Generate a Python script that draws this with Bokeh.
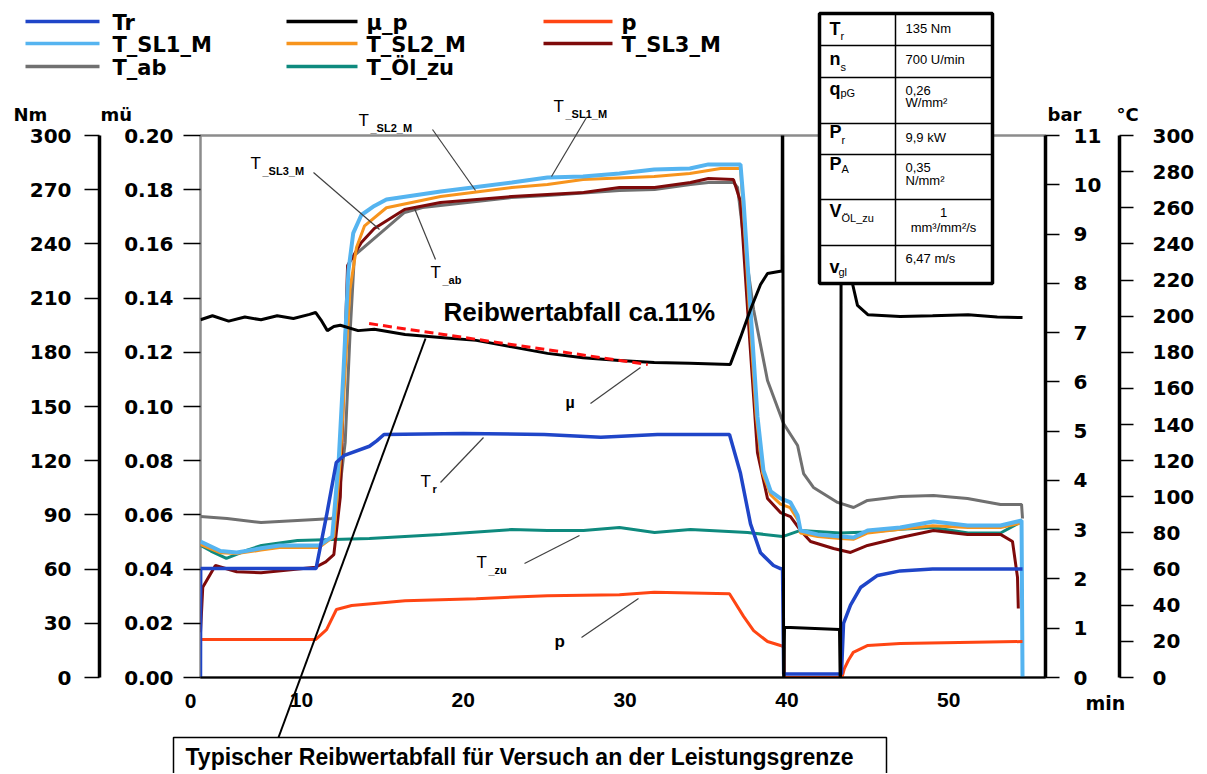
from bokeh.plotting import figure
from bokeh.models import (Range1d, LinearAxis, FixedTicker, Label, NumeralTickFormatter, GridBox, Column)
from bokeh.embed import file_html
from bokeh.resources import INLINE

# ---------------- data (time in min) ----------------
TR_T = [3.76, 3.77, 10.9, 11.55, 12.15, 12.65, 14.2, 14.65, 15.1, 20.0, 25.0, 28.5, 32.0, 36.45,
        37.13, 37.75, 38.37, 39.17, 39.6, 39.73, 39.8, 43.37, 43.5, 43.93, 44.55, 45.6, 47.0, 49.0, 54.56]
TR_V = [0, 60.3, 60.3, 89.7, 119, 123, 128, 131, 134.5, 135, 134.5, 133, 134.5, 134.5,
        113, 85, 69, 62, 60.3, 60, 2, 2, 30, 40, 49.8, 56.5, 59, 60, 60]

MU_T = [3.76, 4.5, 5.5, 6.5, 7.5, 8.5, 9.5, 10.5, 10.87, 11.2, 11.6, 12.0, 12.4, 13.5, 14.5, 16.4,
        18.6, 20.8, 23.0, 25.2, 27.4, 29.65, 31.8, 34.0, 36.5, 37.13, 37.75, 38.37, 38.8, 39.5,
        39.70, 39.73, 39.80, 39.85, 43.25, 43.31, 43.37, 44.05, 44.36, 45.0, 47.0, 49.0, 51.2, 53.0, 54.56]
MU_V = [0.132, 0.1335, 0.1315, 0.133, 0.132, 0.1335, 0.1325, 0.134, 0.1347, 0.132, 0.128, 0.1295,
        0.130, 0.128, 0.1285, 0.1266, 0.1255, 0.1244, 0.122, 0.1196, 0.118, 0.1170, 0.1162, 0.1160,
        0.1155, 0.1255, 0.1358, 0.1450, 0.1491, 0.1498, 0.150, 0.25, -0.01, 0.0185, 0.0177, -0.01,
        0.25, 0.1454, 0.1373, 0.1339, 0.1332, 0.1335, 0.1339, 0.133, 0.1328]

TREND_T = [14.18, 31.4]
TREND_V = [0.1306, 0.1155]

P_T = [3.76, 10.87, 11.55, 12.16, 13.1, 16.4, 20.8, 25.2, 29.65, 31.8, 36.45, 37.32, 37.94, 38.8,
       39.6, 39.8, 39.85, 43.4, 43.55, 43.8, 44.1, 45.0, 47.0, 54.56]
P_V = [0.77, 0.77, 0.97, 1.38, 1.46, 1.56, 1.60, 1.66, 1.68, 1.73, 1.70, 1.24, 0.95, 0.73,
       0.65, 0.62, 0.0, 0.0, 0.18, 0.35, 0.51, 0.65, 0.69, 0.73]

SL1_T = [3.76, 5.0, 6.0, 7.5, 8.64, 11.1, 11.9, 12.3, 12.6, 12.9, 13.2, 13.7, 14.5, 15.25, 18.6, 23.0,
         25.2, 27.4, 29.65, 31.8, 34.0, 35.15, 37.13, 37.32, 37.75, 38.18, 38.55, 39.0, 39.6, 40.22,
         40.66, 40.84, 41.89, 43.31, 44.12, 44.98, 47.0, 49.06, 51.16, 53.2, 54.5, 54.56]
SL1_V = [75.3, 70, 69.2, 71.5, 73.1, 73.1, 78, 120, 170, 225, 246, 256, 261, 264.6, 269.0, 274.0,
         276.8, 277.3, 279.0, 281.2, 281.7, 284.0, 284.0, 263.5, 203.7, 144.5, 114.6, 103.0, 99.1, 96.9,
         89.7, 81.4, 79.2, 78.0, 77.5, 81.4, 83.0, 86.3, 84.1, 84.1, 86.9, 0]

SL2_T = [3.76, 5.0, 6.0, 7.5, 8.64, 11.1, 12.0, 12.4, 12.7, 13.0, 13.4, 13.9, 15.25, 18.6, 23.0, 25.2,
         27.4, 31.8, 34.0, 35.9, 37.13, 37.3, 37.7, 38.1, 38.5, 39.0, 39.6, 40.2, 40.7, 40.84, 41.9,
         43.3, 44.1, 45.0, 47.0, 49.0, 51.2, 53.2, 54.5]
SL2_V = [73.6, 69, 68.6, 70.5, 72, 72, 78, 120, 170, 215, 238, 250, 260, 266.2, 271.2, 272.9,
         275.6, 277.3, 279.0, 281.7, 281.7, 260, 200, 145, 113, 101, 96, 94, 87, 80, 78,
         77, 76.5, 80, 82, 84, 83, 83, 85.5]

SL3_T = [3.76, 3.9, 4.68, 6.0, 7.5, 10.87, 11.5, 12.0, 12.4, 12.6, 12.85, 13.7, 14.5, 16.37, 18.59,
         22.98, 25.2, 27.43, 29.65, 31.82, 34.04, 35.15, 36.7, 37.13, 37.57, 38.18, 38.8, 39.6, 40.22,
         40.84, 41.46, 42.88, 43.93, 44.98, 47.02, 49.06, 51.16, 53.2, 53.94, 54.25, 54.3]
SL3_V = [25, 50, 62, 58.5, 58, 61, 64, 68, 100, 160, 228, 240.8, 248.5, 259, 262.9,
         266.2, 267.3, 268.4, 271.2, 271.2, 274, 276.2, 275.6, 263.5, 203.7, 124.5, 99.1, 91.3, 89.1,
         81.4, 75.3, 71.4, 69.2, 73.1, 77.5, 81.4, 79.2, 79.2, 75.3, 55.4, 38.2]

TAB_T = [3.76, 5.4, 7.5, 10.87, 11.9, 12.2, 12.7, 13.0, 13.27, 14.7, 16.37, 17.48, 22.98, 25.2, 29.65,
         31.82, 34.04, 35.15, 36.7, 36.95, 37.32, 37.94, 38.8, 39.79, 40.66, 41.03, 41.64, 43.13, 44.12,
         44.98, 47.02, 49.06, 51.16, 53.2, 54.5, 54.56]
TAB_V = [89.1, 88, 85.8, 87.5, 88, 92, 130, 190, 233.6, 244.6, 257.4, 260.1, 265.7, 266.8, 269.6,
         270.1, 272.9, 274, 274, 271.2, 243.5, 203.7, 164.4, 140.6, 128.4, 112.9, 105.2, 96.9, 94.1,
         98, 100.2, 100.7, 99.1, 95.8, 95.8, 88]

OEL_T = [3.76, 4.4, 5.36, 6.5, 7.53, 9.75, 14.2, 18.59, 22.98, 25.2, 27.43, 29.65, 31.82, 34.04, 37.57,
         39.73, 40.84, 43.3, 45.0, 47.0, 49.0, 51.2, 53.2, 54.5]
OEL_V = [73.1, 70, 65.9, 70, 73.1, 75.8, 76.9, 79.2, 81.9, 81.4, 81.4, 83, 80.3, 81.9, 80.3,
         78, 81.4, 80, 80.5, 82, 83, 80, 80, 86.3]

X_TICKS = [10, 20, 30, 40, 50]
MU_TICKS = [0.00, 0.02, 0.04, 0.06, 0.08, 0.10, 0.12, 0.14, 0.16, 0.18, 0.20]
NM_TICKS = [0, 30, 60, 90, 120, 150, 180, 210, 240, 270, 300]
BAR_TICKS = [0, 1, 2, 3, 4, 5, 6, 7, 8, 9, 10, 11]
DEGC_TICKS = [0, 20, 40, 60, 80, 100, 120, 140, 160, 180, 200, 220, 240, 260, 280, 300]

LEGEND_NAMES = ["Tr", "T_SL1_M", "T_ab", "µ_p", "T_SL2_M", "T_Öl_zu", "p", "T_SL3_M"]
TABLE_SYM = [("T", "r"), ("n", "s"), ("q", "pG"), ("P", "r"), ("P", "A"), ("V", "ÖL_zu"), ("v", "gl")]
TABLE_VAL = [["135 Nm"], ["700 U/min"], ["0,26", "W/mm²"], ["9,9 kW"], ["0,35", "N/mm²"],
             ["1", "mm³/mm²/s"], ["6,47 m/s"]]

C_TR = "#1f45c8"
C_MU = "#000000"
C_P = "#ff4513"
C_SL1 = "#55b4f0"
C_SL2 = "#f7941d"
C_SL3 = "#7e0a0a"
C_AB = "#707070"
C_OEL = "#0e8a7e"

X0, X1 = 3.76, 55.98
W, H = 1206, 773
FR_L, FR_R, FR_T, FR_B = 200, 1045, 135, 677

# ---------------- main chart ----------------
p = figure(width=W, height=H, output_backend="svg", toolbar_location=None, title=None,
           x_range=Range1d(X0, X1), y_range=Range1d(0, 0.2),
           min_border_left=FR_L, min_border_right=W - FR_R, min_border_top=FR_T,
           min_border_bottom=H - FR_B)
p.extra_y_ranges = {"nm": Range1d(0, 300), "bar": Range1d(0, 11), "degc": Range1d(0, 300)}
p.grid.visible = False
p.outline_line_color = "#8c8c8c"
p.outline_line_width = 2.5
p.background_fill_color = "white"
p.border_fill_color = "white"


def style_axis(ax, line_color, line_width, tick_out, standoff, font, size):
    ax.axis_line_color = line_color
    ax.axis_line_width = line_width
    ax.major_tick_out = tick_out
    ax.major_tick_in = 0
    ax.minor_tick_out = 0
    ax.minor_tick_in = 0
    ax.major_tick_line_color = "black"
    ax.major_tick_line_width = 1.5
    ax.major_label_standoff = standoff
    ax.major_label_text_font = font
    ax.major_label_text_font_size = size
    ax.major_label_text_font_style = "bold"
    ax.major_label_text_color = "black"


xa = p.xaxis[0]
xa.ticker = FixedTicker(ticks=X_TICKS)
style_axis(xa, "black", 2, 0, 15, "Liberation Sans", "21px")

mu_ax = p.yaxis[0]
mu_ax.ticker = FixedTicker(ticks=MU_TICKS)
mu_ax.formatter = NumeralTickFormatter(format="0.00")
style_axis(mu_ax, None, 1, 17, 10, "DejaVu Sans", "20px")
mu_ax.axis_label = " "
mu_ax.axis_label_text_font_size = "12px"
mu_ax.axis_label_standoff = 5

nm_ax = LinearAxis(y_range_name="nm", ticker=FixedTicker(ticks=NM_TICKS))
style_axis(nm_ax, "black", 3.5, 15, 13, "DejaVu Sans", "20px")
p.add_layout(nm_ax, "left")

bar_ax = LinearAxis(y_range_name="bar", ticker=FixedTicker(ticks=BAR_TICKS))
style_axis(bar_ax, "black", 3.5, 14, 14, "DejaVu Sans", "20px")
bar_ax.axis_label = " "
bar_ax.axis_label_text_font_size = "11px"
bar_ax.axis_label_standoff = 0
p.add_layout(bar_ax, "right")

degc_ax = LinearAxis(y_range_name="degc", ticker=FixedTicker(ticks=DEGC_TICKS))
style_axis(degc_ax, "black", 3.5, 14, 19, "DejaVu Sans", "20px")
p.add_layout(degc_ax, "right")

p.line(TAB_T, TAB_V, y_range_name="degc", line_color=C_AB, line_width=3)
p.line(OEL_T, OEL_V, y_range_name="degc", line_color=C_OEL, line_width=3)
p.line(SL3_T, SL3_V, y_range_name="degc", line_color=C_SL3, line_width=3)
p.line(SL2_T, SL2_V, y_range_name="degc", line_color=C_SL2, line_width=3)
p.line(SL1_T, SL1_V, y_range_name="degc", line_color=C_SL1, line_width=4)
p.line(P_T, P_V, y_range_name="bar", line_color=C_P, line_width=3)
p.line(TR_T, TR_V, y_range_name="nm", line_color=C_TR, line_width=3.5)
p.line(MU_T, MU_V, line_color=C_MU, line_width=3)
p.line(TREND_T, TREND_V, line_color="#ff1010", line_width=3, line_dash="9 5")

# ---------------- overlay for legend, table and notes (page-pixel coordinates) ----------------
ov = figure(width=W, height=H, output_backend="svg", toolbar_location=None, title=None,
            x_range=Range1d(0, W), y_range=Range1d(H, 0),
            x_axis_location=None, y_axis_location=None,
            min_border_left=0, min_border_right=0, min_border_top=0, min_border_bottom=0)
ov.grid.visible = False
ov.outline_line_color = None
ov.background_fill_color = None
ov.border_fill_color = None


def txt(x, y, s, size, bold=False, font="Liberation Sans", align="left", color="black"):
    ov.add_layout(Label(x=x, y=y, text=s, text_font=font, text_font_size=f"{size}px",
                        text_font_style="bold" if bold else "normal", text_align=align,
                        text_baseline="middle", text_color=color))


def seg(x0, y0, x1, y1, color="black", w=1.0):
    ov.segment(x0=[x0], y0=[y0], x1=[x1], y1=[y1], line_color=color, line_width=w)


# legend
leg_colors = [C_TR, C_SL1, C_AB, C_MU, C_SL2, C_OEL, C_P, C_SL3]
col_line = [(25, 99), (286, 357), (543, 612)]
col_text = [112, 366, 621]
row_y = [21, 43, 66]
for i, (name, col) in enumerate(zip(LEGEND_NAMES, leg_colors)):
    c, r = divmod(i, 3)
    seg(col_line[c][0], row_y[r], col_line[c][1], row_y[r], col, 3.5)
    txt(col_text[c], row_y[r] + 1, name, 21, bold=True, font="DejaVu Sans")

# axis headers
txt(13, 114, "Nm", 18, bold=True, font="DejaVu Sans")
txt(100, 114, "mü", 18, bold=True, font="DejaVu Sans")
txt(1047, 114, "bar", 18, bold=True, font="DejaVu Sans")
txt(1116, 114, "°C", 18, bold=True, font="DejaVu Sans")
txt(1085, 702, "min", 19, bold=True, font="DejaVu Sans")
txt(190, 700, "0", 21, bold=True, align="center")


def tlabel(x, y, sub):
    txt(x, y, "T", 17)
    txt(x + 12, y + 7, sub, 11, bold=True)


tlabel(358, 120, "_SL2_M")
seg(432, 129, 475, 190, "#404040", 1.2)
tlabel(553, 106, "_SL1_M")
seg(586, 117, 551, 176, "#404040", 1.2)
tlabel(250, 163, "_SL3_M")
seg(313, 172, 379, 229, "#404040", 1.2)
tlabel(430, 272, "_ab")
seg(435, 259, 414, 208, "#404040", 1.2)
tlabel(420, 481, "r")
seg(440, 482, 483, 437, "#404040", 1.2)
tlabel(476, 562, "_zu")
seg(524, 563, 579, 535, "#404040", 1.2)
txt(565, 402, "µ", 16, bold=True)
seg(590, 403, 640, 367, "#404040", 1.2)
txt(554, 641, "p", 17, bold=True)
seg(581, 637, 638, 598, "#404040", 1.2)
txt(443, 311, "Reibwertabfall ca.11%", 26, bold=True)

# bottom note box
ov.quad(left=[173], right=[886], top=[737], bottom=[800], fill_color="white",
        line_color="black", line_width=1.5)
seg(278, 737, 425, 338, "black", 2)
txt(185, 756, "Typischer Reibwertabfall für Versuch an der Leistungsgrenze", 23, bold=True)

# parameter table
TB_L, TB_R, TB_MID = 819, 992, 895
ROWS = [13, 45, 77, 123, 154, 199, 245, 283]
ov.quad(left=[TB_L], right=[TB_R], top=[ROWS[0]], bottom=[ROWS[-1]], fill_color="white",
        line_color="black", line_width=3.5)
seg(TB_MID, ROWS[0], TB_MID, ROWS[-1], "black", 1.5)
for ry in ROWS[1:-1]:
    seg(TB_L, ry, TB_R, ry, "black", 1.5)

sym_y = [28, 58, 88, 131, 163, 210, 266]
sub_dy = [7, 8, 4, 8, 5, 7, 5]
sub_dx = [11, 11, 11, 12, 12, 12, 9]
for (sym, sub), yy, sdy, sdx in zip(TABLE_SYM, sym_y, sub_dy, sub_dx):
    txt(829, yy, sym, 18, bold=True)
    txt(829 + sdx, yy + sdy, sub, 11)

val_y = [[28], [59], [90, 102], [137], [167, 180], [212, 227], [258]]
for vals, ys in zip(TABLE_VAL, val_y):
    for v, yy in zip(vals, ys):
        if vals[0] == "1":
            txt(943, yy, v, 13, align="center")
        else:
            txt(905, yy, v, 13)

layout = GridBox(children=[(p, 0, 0), (Column(children=[ov]), 0, 0)])
open("out.html", "w").write(file_html(layout, INLINE))
